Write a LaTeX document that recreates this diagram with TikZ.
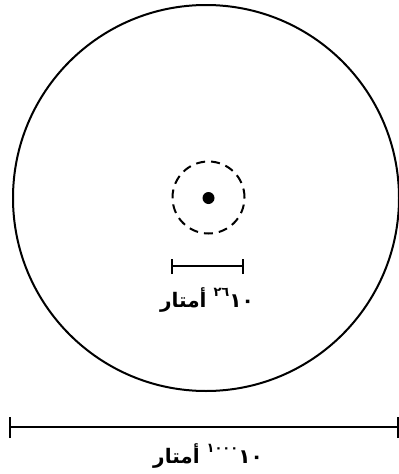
\documentclass[tikz,border=0pt]{standalone}
\usepackage{fontspec}
\newfontfamily\arabicfont[Script=Arabic]{DejaVu Sans}
\TeXXeTstate=1
\tikzset{
  ring/.style={circle, draw, line width=2pt, inner sep=0pt},
  dashring/.style={circle, draw, line width=2pt, inner sep=0pt, dash pattern=on 9pt off 6pt},
  bar/.style={line width=2pt},
  lbl/.style={font=\arabicfont\bfseries\fontsize{20}{24}\selectfont, inner sep=0pt}
}
\newcommand{\supnum}[1]{\raisebox{0.55em}{\fontsize{13}{14}\selectfont #1}}
\begin{document}
\begin{tikzpicture}[x=1pt,y=-1pt]
\useasboundingbox (0,0) rectangle (399,474);
\node[ring, minimum size=386pt] (big) at (206,198) {};
\node[dashring, minimum size=72pt] (dash) at (208.5,197.5) {};
\node[circle, fill, inner sep=0pt, minimum size=12pt] (dot) at (208.5,198) {};
% small scale bar
\coordinate (sl) at (172,266);
\coordinate (sr) at (243,266);
\draw[bar] (sl) -- (sr);
\draw[bar] ([yshift=-8pt]sl) -- ([yshift=7pt]sl);
\draw[bar] ([yshift=-8pt]sr) -- ([yshift=7pt]sr);
\node[lbl] (slabel) at (207,300) {\beginR\beginL ١٠\endL\beginL\supnum{٢٦}\endL{} أمتار\endR};
% big scale bar
\coordinate (bl) at (10,427);
\coordinate (br) at (398,427);
\draw[bar] (bl) -- (br);
\draw[bar] ([yshift=-11pt]bl) -- ([yshift=10pt]bl);
\draw[bar] ([yshift=-11pt]br) -- ([yshift=10pt]br);
\node[lbl] (blabel) at (208,456) {\beginR\beginL ١٠\endL\beginL\supnum{١٠٠٠}\endL{} أمتار\endR};
\end{tikzpicture}
\end{document}
